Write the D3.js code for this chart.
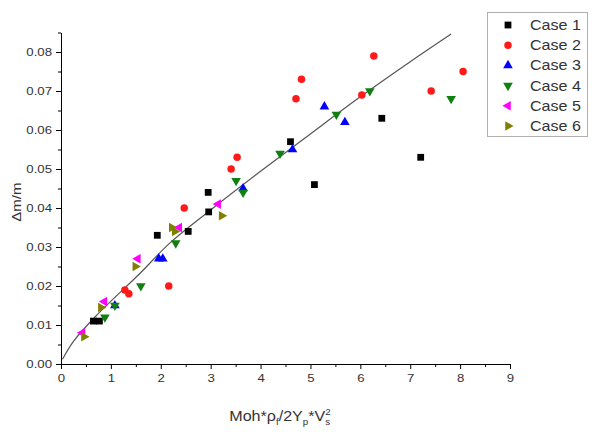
<!DOCTYPE html>
<html>
<head>
<meta charset="utf-8">
<script src="https://cdn.jsdelivr.net/npm/d3@7"></script>
<style>
  body { margin: 0; background: #fff; }
  svg { display: block; font-family: "Liberation Sans", Arial, sans-serif; }
  .axis path, .axis line { stroke: #000; }
  .axis text { fill: #333; font-size: 11.5px; }
</style>
</head>
<body>
<div id="chart"></div>
<script>
// values
const caseNames = ["Case 1", "Case 2", "Case 3", "Case 4", "Case 5", "Case 6"];

const case1 = [[0.65, 0.011], [0.77, 0.011], [1.93, 0.033], [2.55, 0.034], [2.95, 0.044],
  [2.96, 0.039], [4.6, 0.057], [5.08, 0.046], [6.43, 0.063], [7.21, 0.053]];
const case2 = [[1.28, 0.019], [1.36, 0.018], [2.16, 0.020], [2.47, 0.040], [3.41, 0.050],
  [3.53, 0.053], [4.71, 0.068], [4.82, 0.073], [6.03, 0.069], [6.27, 0.079], [7.42, 0.070], [8.06, 0.075]];
const case3 = [[1.08, 0.015], [1.96, 0.027], [2.04, 0.027], [3.65, 0.045], [4.64, 0.055],
  [5.28, 0.066], [5.69, 0.062]];
const case4 = [[0.88, 0.012], [1.08, 0.015], [1.6, 0.020], [2.30, 0.031], [3.51, 0.047],
  [3.65, 0.044], [4.39, 0.054], [5.52, 0.064], [6.19, 0.070], [7.82, 0.068]];
const case5 = [[0.43, 0.008], [0.87, 0.016], [1.54, 0.027], [2.37, 0.035], [3.15, 0.041]];
const case6 = [[0.46, 0.007], [0.8, 0.0145], [1.49, 0.025], [2.22, 0.035], [2.28, 0.034], [3.22, 0.038]];

// fitted curve, points
const fitLine = [[0.03, 0.0012], [0.25, 0.0058], [0.7, 0.0123], [1.58, 0.0232], [2.18, 0.031],
  [3.0, 0.0395], [4.0, 0.0494], [5.0, 0.0590], [6.0, 0.0685], [7.0, 0.0775], [7.82, 0.0846]];

const xTicks = [0, 1, 2, 3, 4, 5, 6, 7, 8, 9];
const yTicks = [0, 0.01, 0.02, 0.03, 0.04, 0.05, 0.06, 0.07, 0.08];

const width = 597, height = 434;
const stretch = 1.15; // text in the picture is drawn a bit wide

const series = [case1, case2, case3, case4, case5, case6];
const colors = ["#000000", "#ff1a1a", "#0000ff", "#108010", "#ff00ff", "#808000"];
const shapes = ["square", "circle", "up", "down", "left", "right"];

let svg = d3.select("#chart").append("svg")
  .attr("width", width)
  .attr("height", height);

let x = d3.scaleLinear().domain([0, 9]).range([61, 510]);
let y = d3.scaleLinear().domain([0, 0.085]).range([364, 32.5]);

// minor ticks first, major on top
svg.append("g")
  .attr("class", "axis")
  .attr("transform", `translate(0,${y(0)})`)
  .call(d3.axisBottom(x).tickValues(d3.range(0.5, 9, 1)).tickSize(3).tickFormat(""))
  .select(".domain").remove();
svg.append("g")
  .attr("class", "axis")
  .attr("transform", `translate(${x(0)},0)`)
  .call(d3.axisLeft(y).tickValues(d3.range(0.005, 0.086, 0.01)).tickSize(3).tickFormat(""))
  .select(".domain").remove();

let xAxis = svg.append("g")
  .attr("class", "axis")
  .attr("transform", `translate(0,${y(0)})`)
  .call(d3.axisBottom(x).tickValues(xTicks).tickSize(5).tickSizeOuter(0).tickPadding(5).tickFormat(d3.format("d")));
xAxis.selectAll("text").attr("transform", `scale(${stretch},1)`);

let yAxis = svg.append("g")
  .attr("class", "axis")
  .attr("transform", `translate(${x(0)},0)`)
  .call(d3.axisLeft(y).tickValues(yTicks).tickSize(5).tickSizeOuter(0).tickFormat(d3.format(".2f")));
yAxis.selectAll("text").attr("x", -9 / stretch).attr("transform", `scale(${stretch},1)`);

// fitted line
svg.append("path")
  .datum(fitLine)
  .attr("fill", "none")
  .attr("stroke", "#555")
  .attr("stroke-width", 1.2)
  .attr("d", d3.line().x(d => x(d[0])).y(d => y(d[1])).curve(d3.curveCatmullRom));

function symbolPath(shape) {
  if (shape === "square") return d3.symbol(d3.symbolSquare, 46)();
  if (shape === "circle") return d3.symbol(d3.symbolCircle, 44)();
  return d3.symbol(d3.symbolTriangle, 40)();
}
function symbolRotate(shape) {
  return { up: 0, down: 180, left: -90, right: 90 }[shape] || 0;
}

// points
series.forEach((pts, i) => {
  svg.append("g").selectAll("path")
    .data(pts)
    .join("path")
    .attr("d", symbolPath(shapes[i]))
    .attr("fill", colors[i])
    .attr("transform", d => `translate(${x(d[0])},${y(d[1])}) rotate(${symbolRotate(shapes[i])})`);
});

// legend
let legend = svg.append("g");
legend.append("rect")
  .attr("x", 487.5).attr("y", 12.5)
  .attr("width", 100).attr("height", 124)
  .attr("fill", "#fff").attr("stroke", "#b0b0b0");

let rows = legend.selectAll("g.row")
  .data(caseNames)
  .join("g")
  .attr("class", "row")
  .attr("transform", (d, i) => `translate(0,${25 + i * 20.2})`);
rows.append("path")
  .attr("d", (d, i) => symbolPath(shapes[i]))
  .attr("fill", (d, i) => colors[i])
  .attr("transform", (d, i) => `translate(508,0) rotate(${symbolRotate(shapes[i])})`);
rows.append("text")
  .attr("transform", `translate(530,5) scale(${stretch},1)`)
  .attr("font-size", 14)
  .attr("fill", "#333")
  .text(d => d);

// axis titles
let xt = svg.append("text")
  .attr("transform", `translate(280,421) scale(${stretch},1)`)
  .attr("text-anchor", "middle")
  .attr("font-size", 14)
  .attr("fill", "#333");
xt.append("tspan").text("Moh*ρ");
xt.append("tspan").attr("font-size", 8.5).attr("dy", 4).text("f");
xt.append("tspan").attr("dy", -4).text("/2Y");
xt.append("tspan").attr("font-size", 8.5).attr("dy", 4).text("p");
xt.append("tspan").attr("dy", -4).text("*V");
xt.append("tspan").attr("font-size", 8.5).attr("dy", -6).text("2");
xt.append("tspan").attr("font-size", 8.5).attr("dx", -4.7).attr("dy", 10).text("s");

svg.append("text")
  .attr("transform", `translate(21,${y(0.0415)}) rotate(-90) scale(${stretch},1)`)
  .attr("text-anchor", "middle")
  .attr("font-size", 13)
  .attr("fill", "#333")
  .text("Δm/m");
</script>
</body>
</html>
